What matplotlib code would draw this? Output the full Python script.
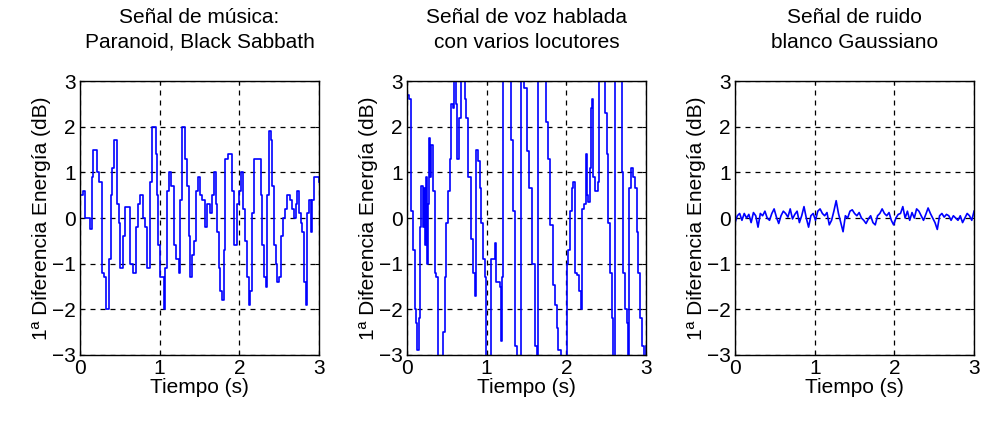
import matplotlib.pyplot as plt

plt.rcParams["font.family"] = ["Liberation Sans", "DejaVu Sans"]
plt.rcParams["font.size"] = 15

# Señal de música (tiempo en s, diferencia de energía en dB)
musica_t = [0.000, 0.042, 0.063, 0.105, 0.126, 0.147, 0.168, 0.201, 0.218, 0.243,
            0.273, 0.302, 0.327, 0.357, 0.369, 0.386, 0.407, 0.428, 0.453, 0.470,
            0.487, 0.504, 0.537, 0.546, 0.567, 0.608, 0.629, 0.663, 0.697, 0.730,
            0.755, 0.789, 0.818, 0.839, 0.864, 0.881, 0.902, 0.944, 0.957, 0.965,
            0.974, 1.007, 1.049, 1.070, 1.091, 1.120, 1.146, 1.175, 1.209, 1.238,
            1.259, 1.280, 1.301, 1.322, 1.343, 1.364, 1.385, 1.410, 1.435, 1.460,
            1.481, 1.502, 1.536, 1.574, 1.595, 1.628, 1.658, 1.679, 1.704, 1.721,
            1.742, 1.763, 1.784, 1.804, 1.825, 1.855, 1.888, 1.909, 1.930, 1.951,
            1.972, 1.993, 2.023, 2.048, 2.065, 2.090, 2.119, 2.140, 2.161, 2.182,
            2.224, 2.266, 2.287, 2.308, 2.329, 2.350, 2.371, 2.392, 2.413, 2.434,
            2.455, 2.476, 2.497, 2.518, 2.543, 2.568, 2.602, 2.635, 2.656, 2.686,
            2.707, 2.728, 2.749, 2.770, 2.791, 2.812, 2.833, 2.845, 2.875, 2.896,
            2.917, 2.937, 3.000]
musica_db = [0.5, 0.6, 0.0, 0.0, -0.25, 0.9, 1.5, 1.5, 1.0, 0.8,
             -1.2, -1.3, -2.0, -2.0, -0.9, 0.5, 1.1, 1.7, 1.7, 0.3,
             -0.1, -1.1, -1.1, -0.4, 0.25, 0.25, -1.0, -1.2, -0.2, 0.3,
             0.5, 0.0, -0.2, -1.1, -1.1, 0.8, 2.0, 2.0, 1.4, 0.5,
             -0.6, -1.3, -2.0, -1.1, 0.6, 1.0, 0.7, -0.6, -0.9, -1.2,
             0.4, 2.0, 2.0, 1.3, 0.7, -0.4, -1.3, -0.8, -0.5, 0.6,
             0.9, 0.5, 0.4, -0.2, 0.3, 0.1, 0.5, 1.0, 0.3, -0.3,
             -1.1, -1.6, -1.8, -0.7, 1.3, 1.4, 1.4, 0.6, -0.6, -0.6,
             0.3, 0.6, 1.0, 0.2, -0.5, -1.3, -1.9, -1.6, 0.1, 1.3,
             1.3, 0.5, -0.6, -1.3, -1.5, 0.5, 1.9, 1.7, 0.7, -0.6,
             -1.0, -1.4, -1.3, -0.4, 0.0, 0.2, 0.5, 0.4, 0.2, 0.0,
             0.3, 0.6, 0.1, -0.1, -0.3, -1.4, -1.9, 0.1, 0.4, -0.3,
             0.4, 0.9, 0.8]

# Señal de voz (valores fuera de ±3 quedan recortados por el eje)
voz_t = [0.000, 0.029, 0.046, 0.054, 0.075, 0.096, 0.117, 0.130, 0.147, 0.159,
         0.180, 0.201, 0.214, 0.222, 0.243, 0.251, 0.264, 0.277, 0.293, 0.306,
         0.327, 0.348, 0.369, 0.390, 0.440, 0.452, 0.473, 0.494, 0.515, 0.536,
         0.557, 0.578, 0.591, 0.620, 0.633, 0.649, 0.683, 0.716, 0.725, 0.746,
         0.767, 0.809, 0.829, 0.850, 0.871, 0.892, 0.913, 0.934, 0.955, 0.976,
         0.997, 1.018, 1.052, 1.068, 1.102, 1.123, 1.165, 1.186, 1.198, 1.211,
         1.295, 1.303, 1.332, 1.353, 1.383, 1.420, 1.433, 1.470, 1.496, 1.508,
         1.529, 1.563, 1.605, 1.626, 1.647, 1.730, 1.751, 1.772, 1.793, 1.835,
         1.856, 1.877, 1.898, 1.931, 1.982, 2.003, 2.023, 2.044, 2.065, 2.086,
         2.107, 2.140, 2.157, 2.182, 2.199, 2.224, 2.241, 2.254, 2.275, 2.296,
         2.308, 2.325, 2.337, 2.358, 2.392, 2.409, 2.476, 2.484, 2.505, 2.526,
         2.547, 2.568, 2.589, 2.610, 2.673, 2.694, 2.715, 2.736, 2.757, 2.769,
         2.786, 2.811, 2.840, 2.861, 2.882, 2.903, 2.924, 2.945, 2.970, 3.000]
voz_db = [2.7, 2.6, 2.4, 0.15, -0.7, -2.0, -2.3, -2.9, -2.2, -0.2,
          0.7, -0.2, 0.65, -0.6, 0.9, -1.0, 0.3, 1.75, 0.9, 1.6,
          0.6, -1.2, -1.3, -3.6, -3.6, -2.5, -1.3, -0.1, 0.6, 1.3,
          2.5, 2.4, 3.6, 2.5, 1.3, 2.2, 3.5, 3.5, 2.6, 2.2,
          0.9, -0.45, -1.2, -1.7, 1.5, 1.25, 0.65, -0.1, -0.9, -1.3,
          -3.5, -3.5, -0.9, -0.9, -0.55, -1.4, -1.5, -2.7, -1.3, 3.8,
          3.8, 1.7, 0.15, -2.8, -3.6, -3.6, 3.6, 2.85, 2.85, 1.46,
          0.66, -1.0, -2.8, -3.6, 3.6, 3.6, 2.1, 1.3, -0.15, -1.46,
          -1.9, -2.4, -2.9, -3.3, -3.1, -1.0, -0.7, 0.15, 0.65, 0.8,
          -1.2, -1.25, -1.6, -2.0, 0.2, 0.3, 1.4, 0.5, 0.35, 1.1,
          2.4, 2.6, 0.9, 0.6, 0.8, 3.8, 3.8, 2.3, 1.4, -0.1,
          -1.2, -2.2, -3.6, 3.6, 3.6, 1.0, -1.2, -2.0, -2.3, -3.5,
          0.65, 1.1, 0.9, 0.65, -0.3, -1.2, -2.2, -2.8, -3.2, -2.8]

# Señal de ruido blanco gaussiano, muestras equiespaciadas en 0-3 s
ruido_db = [-0.1, 0.05, 0.1, -0.05, 0.1, 0.0, 0.08, -0.1, 0.12, 0.05,
            -0.2, 0.1, 0.05, 0.15, 0.0, -0.05, 0.1, 0.2, 0.02, -0.12,
            0.05, 0.15, 0.1, 0.02, 0.2, -0.02, 0.08, 0.15, -0.1, 0.05,
            0.25, 0.0, -0.2, 0.05, 0.1, -0.05, 0.15, 0.2, 0.1, 0.05,
            0.12, -0.15, -0.05, 0.15, 0.38, 0.1, -0.1, -0.3, 0.05, 0.0,
            0.15, 0.18, 0.1, 0.05, 0.12, 0.0, -0.05, -0.12, -0.02, 0.05,
            -0.1, -0.15, 0.05, 0.1, 0.2, 0.1, 0.05, 0.12, -0.05, -0.15,
            0.0, 0.08, 0.1, 0.25, 0.0, 0.15, -0.05, 0.12, 0.0, 0.2,
            0.15, 0.05, -0.05, 0.08, 0.22, 0.1, 0.0, -0.1, -0.25, 0.05,
            0.1, 0.02, 0.08, 0.05, -0.05, 0.05, 0.0, -0.05, 0.05, -0.1,
            0.0, 0.1, 0.05, -0.05, 0.15]
ruido_t = [3.0 * i / (len(ruido_db) - 1) for i in range(len(ruido_db))]

titulos = ["Señal de música:\nParanoid, Black Sabbath",
           "Señal de voz hablada\ncon varios locutores",
           "Señal de ruido\nblanco Gaussiano"]

fig = plt.figure(figsize=(9.84, 4.26), dpi=100)
lefts = [0.0813, 0.4136, 0.747]
axes = [fig.add_axes([l, 0.1667, 0.2429, 0.643]) for l in lefts]

axes[0].plot(musica_t, musica_db, color="#0000ff", lw=1.2, drawstyle="steps-post")
axes[1].plot(voz_t, voz_db, color="#0000ff", lw=1.2, drawstyle="steps-post")
axes[2].plot(ruido_t, ruido_db, color="#0000ff", lw=1.2)

for ax, titulo in zip(axes, titulos):
    ax.set_xlim(0, 3)
    ax.set_ylim(-3, 3)
    ax.set_xticks([0, 1, 2, 3])
    ax.set_yticks([-3, -2, -1, 0, 1, 2, 3])
    ax.grid(True, color="black", linestyle=(0, (4, 4)), linewidth=0.9)
    ax.tick_params(direction="in", length=3, top=True, right=True, pad=3)
    for s in ax.spines.values():
        s.set_linewidth(1.0)
    ax.set_title(titulo, fontsize=15, linespacing=1.35, pad=24)
    ax.set_xlabel("Tiempo (s)", labelpad=0)
    ax.set_ylabel("1ª Diferencia Energía (dB)", labelpad=1)

fig.savefig("out.png", dpi=100)
